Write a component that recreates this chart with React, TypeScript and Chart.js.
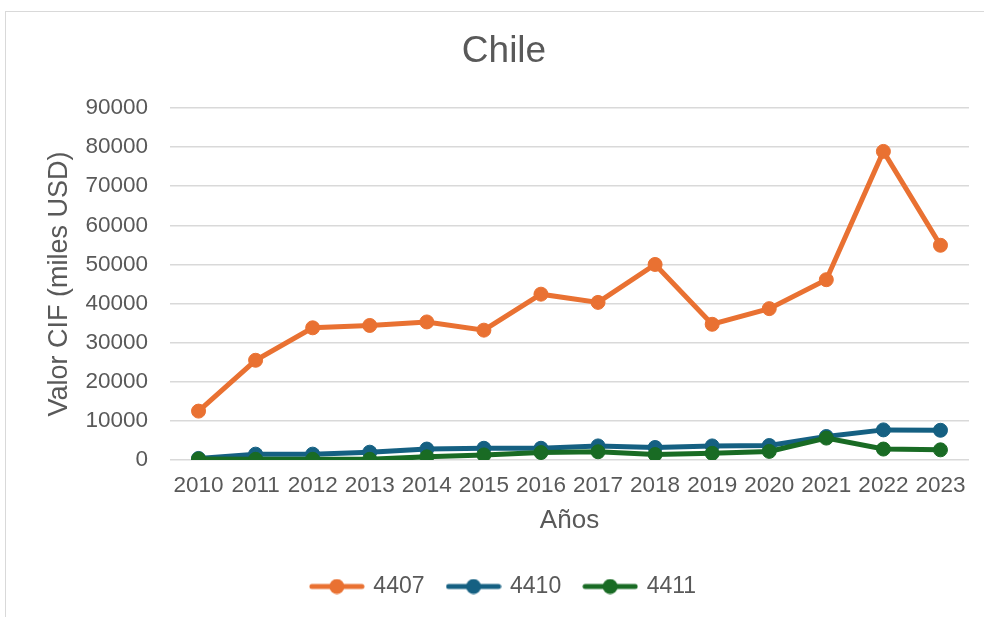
import React, { useEffect, useRef } from "react";
import { Chart, registerables } from "chart.js";

Chart.register(...registerables);

const categories = ["2010","2011","2012","2013","2014","2015","2016","2017","2018","2019","2020","2021","2022","2023"];
const serie4407 = [12500, 25500, 33800, 34400, 35300, 33200, 42400, 40300, 50000, 34700, 38700, 46100, 78900, 54900];
const serie4410 = [400, 1500, 1500, 2000, 2800, 3000, 3000, 3600, 3200, 3600, 3700, 6000, 7700, 7600];
const serie4411 = [250, 170, 170, 170, 800, 1300, 1900, 2100, 1400, 1700, 2200, 5600, 2800, 2600];
const seriesNames = ["4407", "4410", "4411"];
const seriesColors = ["#E97132", "#156082", "#196B24"];
const titleText = "Chile";
const yTitle = "Valor CIF (miles USD)";
const xTitle = "Años";

const FONT = "'Liberation Sans', Arial, sans-serif";
const TEXT = "#595959";

function makeMarker(color: string): HTMLCanvasElement {
  const c = document.createElement("canvas");
  c.width = 56;
  c.height = 16;
  const ctx = c.getContext("2d")!;
  ctx.strokeStyle = color;
  ctx.lineWidth = 5;
  ctx.lineCap = "round";
  ctx.beginPath();
  ctx.moveTo(3, 8);
  ctx.lineTo(53, 8);
  ctx.stroke();
  ctx.fillStyle = color;
  ctx.beginPath();
  ctx.arc(28, 8, 7.5, 0, Math.PI * 2);
  ctx.fill();
  return c;
}

export default function App() {
  const ref = useRef<HTMLCanvasElement | null>(null);
  useEffect(() => {
    if (!ref.current) return;
    const values = [serie4407, serie4410, serie4411];
    const markers = seriesColors.map(makeMarker);
    const chart = new Chart(ref.current, {
      type: "line",
      data: {
        labels: categories,
        datasets: values.map((v, i) => ({
          label: seriesNames[i],
          data: v,
          borderColor: seriesColors[i],
          backgroundColor: seriesColors[i],
          pointBackgroundColor: seriesColors[i],
          pointBorderColor: seriesColors[i],
          borderWidth: 5,
          pointRadius: 7,
          pointBorderWidth: 1,
          tension: 0,
          order: 2 - i,
        })),
      },
      options: {
        responsive: false,
        animation: false,
        devicePixelRatio: 1,
        layout: { padding: { left: 39, right: 15, top: 12, bottom: 9 } },
        plugins: {
          title: {
            display: true,
            text: titleText,
            color: TEXT,
            font: { family: FONT, size: 37, weight: "normal" },
            padding: { top: 17.8, bottom: 33.8 },
          },
          legend: {
            position: "bottom",
            labels: {
              usePointStyle: true,
              pointStyleWidth: 50,
              color: TEXT,
              padding: 24,
              font: { family: FONT, size: 23 },
              generateLabels: () =>
                seriesNames.map((n, i) => ({
                  text: n,
                  fillStyle: seriesColors[i],
                  strokeStyle: seriesColors[i],
                  lineWidth: 0,
                  pointStyle: markers[i] as any,
                  hidden: false,
                  datasetIndex: i,
                  fontColor: TEXT,
                })),
            },
          },
          tooltip: { enabled: false },
        },
        scales: {
          x: {
            type: "category",
            offset: true,
            grid: { display: false },
            border: { display: false },
            ticks: {
              color: TEXT,
              font: { family: FONT, size: 22.5 },
              padding: 4,
              maxRotation: 0,
              autoSkip: false,
            },
            title: {
              display: true,
              text: xTitle,
              color: TEXT,
              font: { family: FONT, size: 26 },
              padding: { top: 0, bottom: 14.4 },
            },
            afterFit: (s: any) => {
              s.height = 91;
            },
          },
          y: {
            min: 0,
            max: 90000,
            grid: { color: "#D9D9D9", lineWidth: 1.5, drawTicks: false },
            border: { display: false },
            ticks: {
              stepSize: 10000,
              color: TEXT,
              font: { family: FONT, size: 22.5 },
              padding: 22,
              callback: (v: any) => String(v),
            },
            title: {
              display: true,
              text: yTitle,
              color: TEXT,
              font: { family: FONT, size: 27 },
              padding: { top: 4.8, bottom: 0 },
            },
            afterFit: (s: any) => {
              s.width = 131;
            },
          },
        },
      },
    });
    return () => chart.destroy();
  }, []);

  return (
    <div style={{ position: "fixed", left: 0, top: 0, width: 984, height: 617, overflow: "hidden", background: "#fff" }}>
      <div style={{ position: "absolute", left: 5, top: 11, width: 1000, height: 620, border: "1px solid #D9D9D9", boxSizing: "border-box" }} />
      <canvas ref={ref} width={984} height={617} style={{ position: "absolute", left: 0, top: 0, width: 984, height: 617 }} />
    </div>
  );
}
